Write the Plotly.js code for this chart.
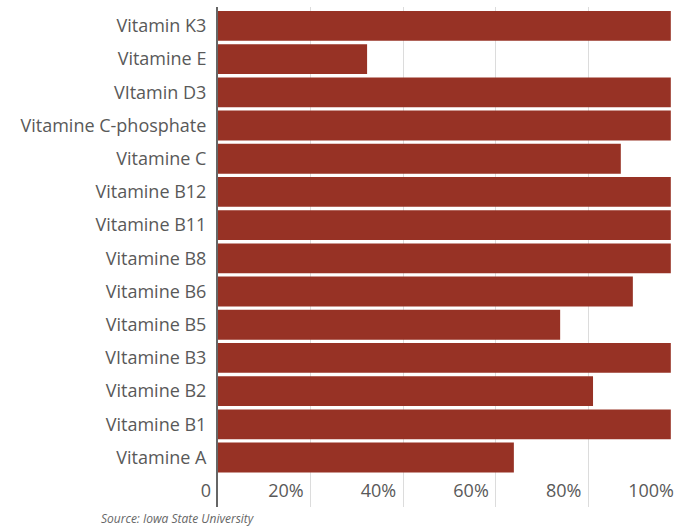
<!DOCTYPE html>
<html>
<head>
<meta charset="utf-8">
<script src="https://cdn.plot.ly/plotly-3.0.1.min.js"></script>
<style>
html,body{margin:0;padding:0;overflow:hidden;background:#fff;}
#chart{width:690px;height:526px;}
</style>
</head>
<body>
<div id="chart"></div>
<script>
// Categories listed top to bottom as in the picture
const categories = [
  "Vitamin K3", "Vitamine E", "VItamin D3", "Vitamine C-phosphate", "Vitamine C",
  "Vitamine B12", "Vitamine B11", "Vitamine B8", "Vitamine B6", "Vitamine B5",
  "VItamine B3", "Vitamine B2", "Vitamine B1", "Vitamine A"
];
const values = [97.8, 32.2, 97.8, 97.8, 87.0, 97.8, 97.8, 97.8, 89.6, 73.9, 97.8, 81.0, 97.8, 63.9];
const tickVals = [0, 20, 40, 60, 80, 100];
const tickText = ["0", "20%", "40%", "60%", "80%", "100%"];
const sourceText = "Source: Iowa State University";

const trace = {
  type: "bar",
  orientation: "h",
  x: values,
  y: categories,
  marker: {color: "#973225"},
  hoverinfo: "x+y"
};

const layout = {
  width: 690,
  height: 526,
  margin: {l: 218, r: 9, t: 7, b: 19, pad: 0},
  paper_bgcolor: "#ffffff",
  plot_bgcolor: "#ffffff",
  bargap: 0.1,
  showlegend: false,
  font: {family: "Open Sans, sans-serif", color: "#595959", size: 18},
  xaxis: {
    range: [0, 100],
    tickvals: tickVals,
    ticktext: tickText,
    ticks: "",
    ticklabelposition: "inside left",
    ticklabeloverflow: "allow",
    ticklabelshift: -7,
    showgrid: true,
    gridcolor: "#dcdcdc",
    gridwidth: 1,
    zeroline: false,
    showline: false,
    tickfont: {size: 18, color: "#595959"},
    fixedrange: true
  },
  yaxis: {
    type: "category",
    categoryorder: "array",
    categoryarray: categories,
    range: [14.49, -0.57],
    showgrid: false,
    zeroline: false,
    showline: true,
    linecolor: "#666666",
    linewidth: 2,
    ticks: "",
    ticklabelstandoff: 6,
    tickfont: {size: 18, color: "#595959"},
    fixedrange: true
  },
  annotations: [{
    text: sourceText,
    xref: "paper", yref: "paper",
    x: -0.257, y: 0,
    xanchor: "left", yanchor: "top",
    yshift: -1,
    showarrow: false,
    font: {size: 12, color: "#666666", family: "Open Sans, sans-serif", style: "italic"}
  }]
};

Plotly.newPlot("chart", [trace], layout, {displayModeBar: false, staticPlot: true});
</script>
</body>
</html>
